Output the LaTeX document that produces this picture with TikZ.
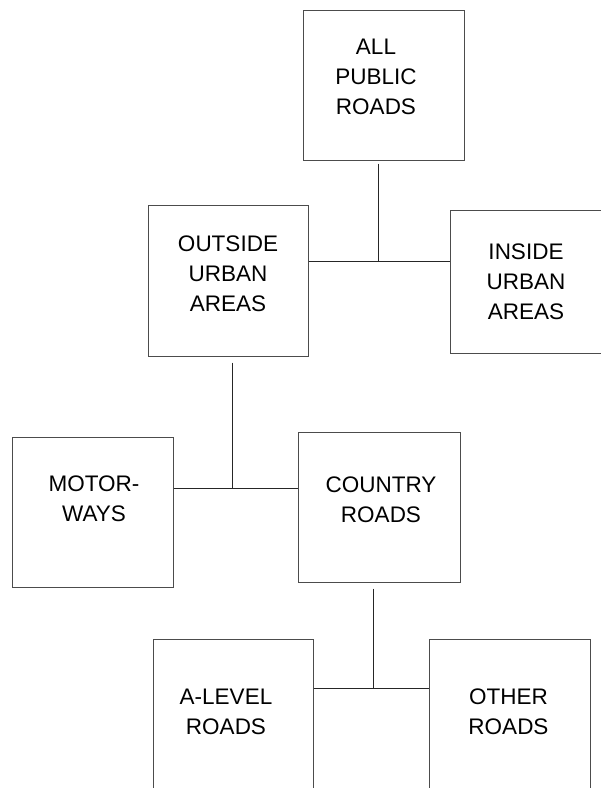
\documentclass[tikz,border=0pt]{standalone}
\usepackage{fontspec}
\setmainfont{Liberation Sans}
\begin{document}
\begin{tikzpicture}[x=1pt,y=-1pt,
  box/.style={draw=black!70,line width=1pt,minimum width=#1,inner sep=0pt},
  bx/.style n args={2}{draw=black!70,line width=1pt,minimum width=#1,minimum height=#2,inner sep=0pt},
  txt/.style={align=center,inner sep=0pt,font=\fontsize{22.5}{30}\selectfont},
  conn/.style={line width=1pt,black!85}]
\useasboundingbox (0,0) rectangle (601,788);
% boxes
\node[bx={161pt}{150pt}] (all) at (383.5,85) {};
\node[bx={160pt}{151pt}] (out) at (228,280.5) {};
\node[bx={161pt}{143pt}] (in) at (530.5,281.5) {};
\node[bx={161pt}{150pt}] (mot) at (92.5,512) {};
\node[bx={162pt}{150pt}] (cty) at (379,507) {};
\node[bx={160pt}{170pt}] (alv) at (233,724) {};
\node[bx={161pt}{170pt}] (oth) at (509.5,724) {};
% texts
\node[txt] (allt) at (376,77) {ALL\\PUBLIC\\ROADS};
\node[txt] (outt) at (228,274) {OUTSIDE\\URBAN\\AREAS};
\node[txt] (int) at (526,282) {INSIDE\\URBAN\\AREAS};
\node[txt] (mott) at (94,499) {MOTOR-\\WAYS};
\node[txt] (ctyt) at (381,500) {COUNTRY\\ROADS};
\node[txt] (alvt) at (226,712) {A-LEVEL\\ROADS};
\node[txt] (otht) at (508.5,712) {OTHER\\ROADS};
% junctions
\coordinate (j1) at (378,261);
\coordinate (j2) at (232,488);
\coordinate (j3) at (373,688);
% connectors
\draw[conn] ([yshift=-3pt]j1 |- all.south) -- (j1);
\draw[conn] (out.east |- j1) -- (in.west |- j1);
\draw[conn] ([yshift=-6pt]j2 |- out.south) -- (j2);
\draw[conn] (mot.east |- j2) -- (cty.west |- j2);
\draw[conn] ([yshift=-6pt]j3 |- cty.south) -- (j3);
\draw[conn] (alv.east |- j3) -- (oth.west |- j3);
\end{tikzpicture}
\end{document}
